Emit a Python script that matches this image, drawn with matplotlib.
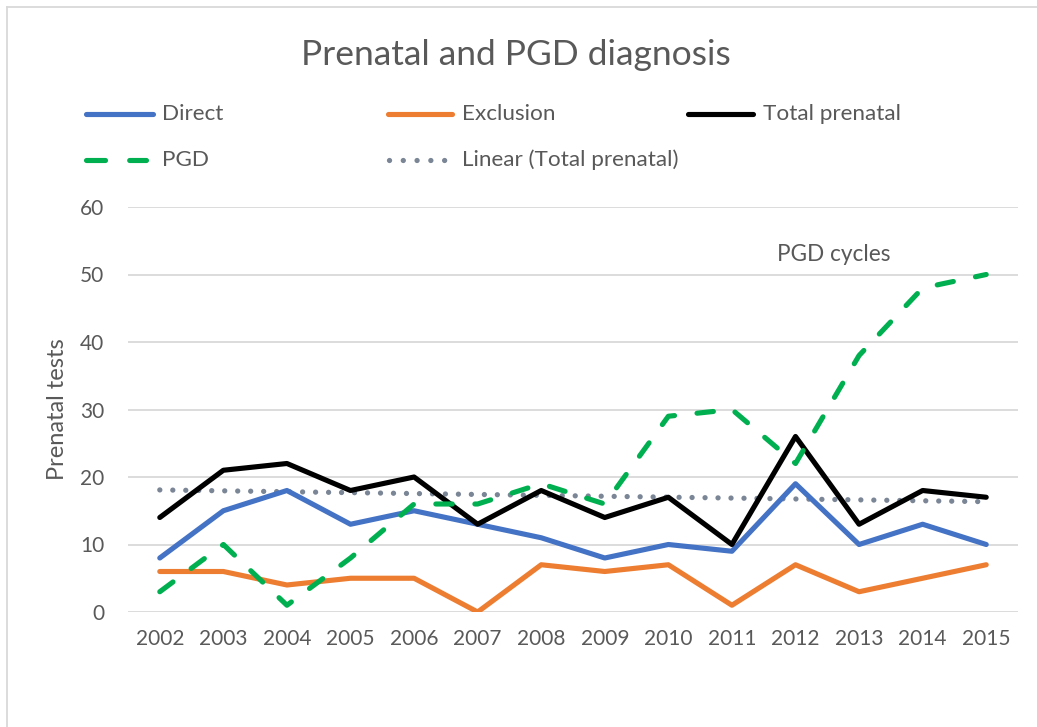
import numpy as np
import matplotlib
matplotlib.use("Agg")
import matplotlib.pyplot as plt
from matplotlib.lines import Line2D

years = [2002, 2003, 2004, 2005, 2006, 2007, 2008, 2009, 2010, 2011, 2012, 2013, 2014, 2015]
direct = [8, 15, 18, 13, 15, 13, 11, 8, 10, 9, 19, 10, 13, 10]
exclusion = [6, 6, 4, 5, 5, 0, 7, 6, 7, 1, 7, 3, 5, 7]
total_prenatal = [14, 21, 22, 18, 20, 13, 18, 14, 17, 10, 26, 13, 18, 17]
pgd = [3, 10, 1, 8, 16, 16, 19, 16, 29, 30, 22, 38, 48, 50]
y_ticks = [0, 10, 20, 30, 40, 50, 60]

W, H = 1037, 727
FONT = "Lato"
GREY = "#595959"
plt.rcParams['font.family'] = [FONT, 'DejaVu Sans']

fig = plt.figure(figsize=(W / 100, H / 100), dpi=100)
L, R, T, B = 128, 1018, 207, 612
ax = fig.add_axes([L / W, 1 - B / H, (R - L) / W, (B - T) / H])

x = np.arange(len(years))
lw = 3.7
c_direct, c_excl, c_total, c_pgd, c_trend = "#4472C4", "#ED7D31", "#000000", "#00B050", "#7A8595"
pgd_dash = (0, (3.2, 4.4))
trend_lw = 3.8
trend_dash = (0, (0.01, 2.45))

coef = np.polyfit(x, total_prenatal, 1)
trend = np.polyval(coef, x)

l_trend, = ax.plot(x, trend, color=c_trend, lw=trend_lw, linestyle=trend_dash,
                   dash_capstyle='round', zorder=2)
l_direct, = ax.plot(x, direct, color=c_direct, lw=lw, solid_capstyle='round', solid_joinstyle='round', zorder=3)
l_excl, = ax.plot(x, exclusion, color=c_excl, lw=lw, solid_capstyle='round', solid_joinstyle='round', zorder=3)
l_total, = ax.plot(x, total_prenatal, color=c_total, lw=lw, solid_capstyle='round', solid_joinstyle='round', zorder=4)
l_pgd, = ax.plot(x, pgd, color=c_pgd, lw=lw, linestyle=pgd_dash, dash_capstyle='round',
                 dash_joinstyle='round', zorder=5)

ax.set_xlim(-0.5, len(years) - 0.5)
ax.set_ylim(0, 60)
ax.set_yticks(y_ticks)
ax.set_xticks(x)
ax.set_xticklabels([str(y) for y in years])
for s in ax.spines.values():
    s.set_visible(False)
ax.grid(axis='y', color="#D9D9D9", lw=1.3, zorder=0)
ax.set_axisbelow(True)
ax.tick_params(axis='both', length=0, labelsize=15, colors=GREY)
ax.tick_params(axis='y', pad=17)
ax.tick_params(axis='x', pad=12)
ax.set_ylabel("Prenatal tests", fontsize=17, color=GREY, va='center')
ax.yaxis.set_label_coords((57 - L) / (R - L), 0.5)

fig.text(516 / W, 1 - 55 / H, "Prenatal and PGD diagnosis", ha='center', va='center',
         fontsize=25.5, color=GREY)
ax.text(10.6, 52.9, "PGD cycles", ha='center', va='center', fontsize=16.3, color=GREY)

# legend (Excel-style, row-major layout)
def fx(px):
    return px / W

def fy(py):
    return 1 - py / H

entries = [
    (l_direct, "Direct", 83, 156, 162, 114, '-', lw),
    (l_excl, "Exclusion", 385, 455, 462, 114, '-', lw),
    (l_total, "Total prenatal", 685, 756, 763, 114, '-', lw),
    (l_pgd, "PGD", 83, 149, 162, 160, (0, (3.7, 4.7)), lw),
    (l_trend, "Linear (Total prenatal)", 386, 452, 462, 160, (0, (0.01, 2.6)), trend_lw),
]
for ln, label, x0, x1, xt, yy, ls, w in entries:
    cap = w * 100 / 72 / 2
    h = Line2D([fx(x0 + cap), fx(x1 - cap)], [fy(yy), fy(yy)], transform=fig.transFigure,
               color=ln.get_color(), lw=w, linestyle=ls,
               solid_capstyle='round', dash_capstyle='round')
    fig.add_artist(h)
    fig.text(fx(xt), fy(yy), label, ha='left', va='center', fontsize=16.2, color=GREY)

# chart area border (left and top visible)
fig.add_artist(Line2D([fx(7), fx(7)], [fy(7), 0], transform=fig.transFigure, color="#D9D9D9", lw=1.3))
fig.add_artist(Line2D([fx(7), 1], [fy(7), fy(7)], transform=fig.transFigure, color="#D9D9D9", lw=1.3))

fig.savefig("out.png", dpi=100, facecolor="white")
